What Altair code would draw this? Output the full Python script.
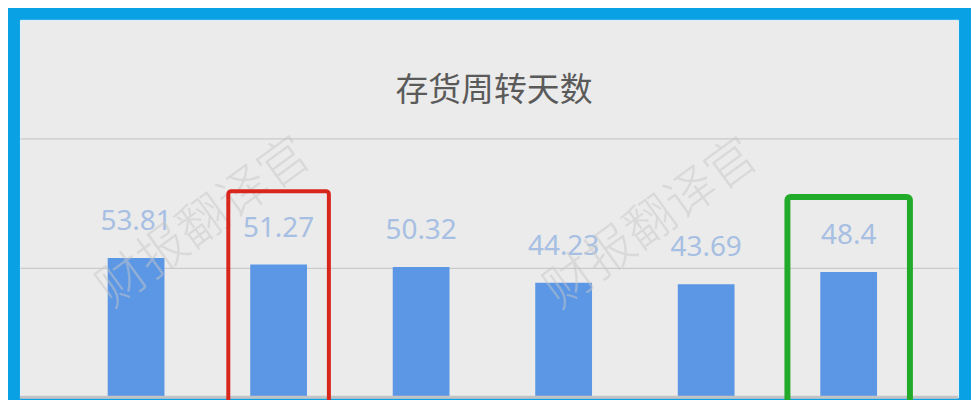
import altair as alt
import pandas as pd

# ---- data ----
periods = ["P1", "P2", "P3", "P4", "P5", "P6"]
days = [53.81, 51.27, 50.32, 44.23, 43.69, 48.4]

title_text = "存货周转天数"
watermark_text = "财报翻译官"

# highlight boxes (category, top value in data units, colour)
hl_periods = ["P2", "P6"]
hl_top = [79.6, 77.3]
hl_color = ["#d9261c", "#22aa2a"]

# ---- styling ----
FRAME = "#0aa0e4"
PANEL = "#ebebeb"
BAR = "#5b97e5"
LABEL = "#a6bfe2"
GRID = "#cacaca"

W, H = 942, 379
YMAX = 145.77

df = pd.DataFrame({"period": periods, "days": days})
hl = pd.DataFrame({"period": hl_periods, "top": hl_top, "bottom": [-10, -10], "color": hl_color})
wm = pd.DataFrame({"t": [watermark_text, watermark_text], "px": [185, 634], "py": [204, 205]})

xs = alt.X("period:N", sort=periods, axis=None,
           scale=alt.Scale(paddingInner=0.6017, paddingOuter=0.592, align=0.52))
ys = alt.Scale(domain=[0, YMAX], nice=False, zero=False)

base = alt.Chart(df)

grid = base.mark_rule().encode(
    y=alt.Y("days:Q", scale=ys, axis=alt.Axis(values=[50, 100], grid=True, gridColor=GRID,
                                                gridWidth=1.2, labels=False, ticks=False,
                                                domain=False, title=None)),
    opacity=alt.value(0),
)

bars = base.mark_bar(color=BAR).encode(x=xs, y=alt.Y("days:Q", scale=ys))

labels = base.mark_text(fontSize=28, font="Noto Sans", color=LABEL, baseline="alphabetic", dy=-28).encode(
    x=xs, y=alt.Y("days:Q", scale=ys), text=alt.Text("days:Q"))

zero_line = alt.Chart(pd.DataFrame({"z": [0]})).mark_rule(color="#c3c3c3", strokeWidth=3).encode(
    y=alt.Y("z:Q", scale=ys))

watermark = alt.Chart(wm).mark_text(fontSize=50, font="Noto Sans CJK SC", fontWeight=300, angle=324,
                                    color="#c8c8c8", opacity=0.5, align="center", baseline="middle").encode(
    x=alt.X("px:Q", scale=None), y=alt.Y("py:Q", scale=None), text="t:N")

boxes_red = alt.Chart(hl[hl.period == "P2"]).mark_bar(filled=False, strokeWidth=4, width=101,
                                                     cornerRadius=3).encode(
    x=xs, y=alt.Y("top:Q", scale=ys), y2="bottom:Q", stroke=alt.Color("color:N", scale=None))
boxes_green = alt.Chart(hl[hl.period == "P6"]).mark_bar(filled=False, strokeWidth=6, width=123,
                                                       cornerRadius=3).encode(
    x=xs, y=alt.Y("top:Q", scale=ys), y2="bottom:Q", stroke=alt.Color("color:N", scale=None))

chart = alt.layer(grid, bars, zero_line, labels, watermark, boxes_red, boxes_green).properties(
    width=W, height=H,
    padding={"left": 10, "top": 11, "right": 11, "bottom": 2},
    background=FRAME,
    title=alt.TitleParams(title_text, font="Noto Sans CJK SC", fontSize=33, fontWeight="normal",
                          color="#5a5a5a", anchor="middle", orient="top", offset=-115,
                          baseline="alphabetic", dx=5),
).configure_view(fill=PANEL, stroke="#e4f2fa", strokeWidth=1)

chart.save("out.html", embed_options={"renderer": "svg", "actions": False})
